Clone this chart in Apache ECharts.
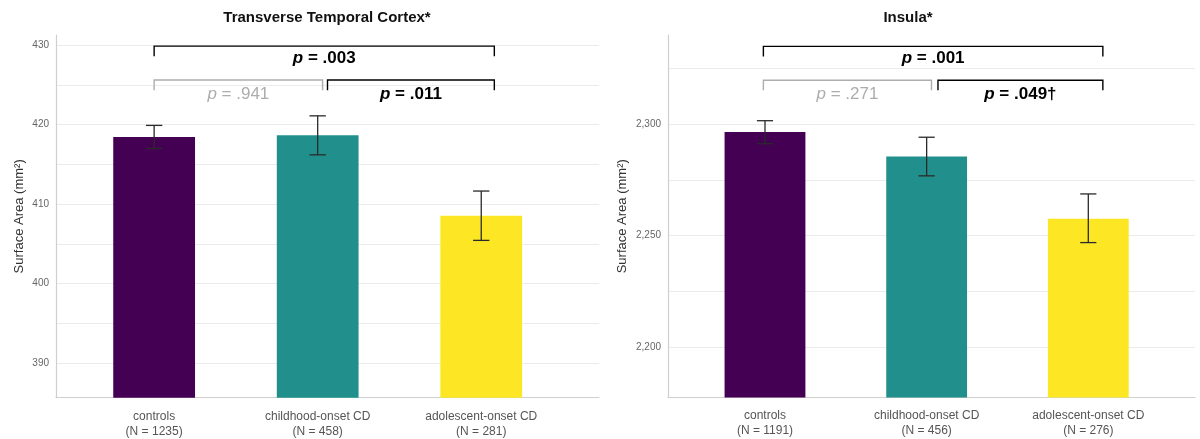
<!DOCTYPE html>
<html><head><meta charset="utf-8">
<script src="https://cdn.jsdelivr.net/npm/echarts@6/dist/echarts.min.js"></script>
<style>html,body{margin:0;padding:0;background:#fff}#c{width:1200px;height:439px}</style>
</head><body><div id="c"></div>
<script>
const groups = ['controls', 'childhood-onset CD', 'adolescent-onset CD'];
const nLeft = [1235, 458, 281];
const nRight = [1191, 456, 276];
const xPos = [1, 2, 3];
const meansL = [418.45, 418.65, 408.55];
const lowL = [417.0, 416.2, 405.45];
const highL = [419.9, 421.1, 411.65];
const meansR = [2296.4, 2285.5, 2257.6];
const lowR = [2291.2, 2276.8, 2246.9];
const highR = [2301.5, 2294.1, 2268.7];
const yTicksL = [390, 400, 410, 420, 430];
const yGridL = [390, 395, 400, 405, 410, 415, 420, 425, 430];
const yTicksR = [2200, 2250, 2300];
const yGridR = [2200, 2225, 2250, 2275, 2300, 2325];
const colors = ['#440154', '#21908C', '#FDE725'];
// brackets: [xStart, xEnd, yLine, yTickEnd, yLabel]
const bracketsL = [[1.0, 3.08, 429.86, 428.6, 428.35], [1.0, 2.03, 425.6, 424.33, 423.8], [2.06, 3.08, 425.6, 424.33, 423.8]];
const bracketLabelsL = ['.003', '.941', '.011'];
const bracketSigL = [true, false, true];
const bracketsR = [[0.99, 3.09, 2334.8, 2330.3, 2329.4], [0.99, 2.03, 2319.6, 2315.1, 2313.3], [2.07, 3.09, 2319.6, 2315.1, 2313.3]];
const bracketLabelsR = ['.001', '.271', '.049†'];
const bracketSigR = [true, false, true];

const FONT = 'Liberation Sans, Arial, Helvetica, sans-serif';

function barData(means) {
  return means.map((v, i) => ({ value: [xPos[i], v], itemStyle: { color: colors[i] } }));
}
function errData(lo, hi) { return lo.map((l, i) => [xPos[i], l, hi[i]]); }

function errSeries(idx, lo, hi) {
  return {
    type: 'custom', xAxisIndex: idx, yAxisIndex: idx, z: 5,
    data: errData(lo, hi), encode: { x: 0, y: [1, 2] },
    renderItem(params, api) {
      const x = api.value(0);
      const p1 = api.coord([x, api.value(1)]);
      const p2 = api.coord([x, api.value(2)]);
      const hw = api.size([0.1, 0])[0] / 2;
      const st = { stroke: '#2a2a2a', lineWidth: 1.3 };
      return { type: 'group', children: [
        { type: 'line', shape: { x1: p1[0], y1: p1[1], x2: p2[0], y2: p2[1] }, style: st },
        { type: 'line', shape: { x1: p1[0] - hw, y1: p1[1], x2: p1[0] + hw, y2: p1[1] }, style: st },
        { type: 'line', shape: { x1: p2[0] - hw, y1: p2[1], x2: p2[0] + hw, y2: p2[1] }, style: st }
      ]};
    }
  };
}

function bracketSeries(idx, brackets, labels, sig) {
  return {
    type: 'custom', xAxisIndex: idx, yAxisIndex: idx, z: 6,
    data: brackets, encode: { x: [0, 1], y: [2, 3, 4] },
    renderItem(params, api) {
      const i = params.dataIndex;
      const x1 = api.value(0), x2 = api.value(1), y = api.value(2), yt = api.value(3), yl = api.value(4);
      const a = api.coord([x1, yt]), b = api.coord([x1, y]), c = api.coord([x2, y]), d = api.coord([x2, yt]);
      const lab = api.coord([(x1 + x2) / 2, yl]);
      const s = sig[i];
      const col = s ? '#000' : '#adadad';
      const fw = s ? 'bold' : 'normal';
      return { type: 'group', children: [
        { type: 'polyline', shape: { points: [a, b, c, d] }, style: { stroke: col, lineWidth: 1.4, fill: null } },
        { type: 'text', x: lab[0], y: lab[1], style: {
          text: '{i|p}{n| = ' + labels[i] + '}',
          align: 'center', verticalAlign: 'middle',
          rich: {
            i: { fontStyle: 'italic', fontWeight: fw, fontSize: 17, fontFamily: FONT, fill: col },
            n: { fontWeight: fw, fontSize: 17, fontFamily: FONT, fill: col }
          }
        }}
      ]};
    }
  };
}

function xAxisCfg(idx, ns, max) {
  return {
    type: 'value', gridIndex: idx, min: 0.4, max: max,
    axisLine: { show: true, lineStyle: { color: '#cfcfcf', width: 1.2 } },
    axisTick: { show: false },
    splitLine: { show: false },
    axisLabel: {
      customValues: xPos, color: '#555', fontSize: 12, lineHeight: 15, margin: 11, fontFamily: FONT,
      formatter: v => groups[Math.round(v) - 1] + '\n(N = ' + ns[Math.round(v) - 1] + ')'
    }
  };
}
function yAxisCfg(idx, min, max, ticks, grid, gap, fmt) {
  return {
    type: 'value', gridIndex: idx, min: min, max: max,
    name: 'Surface Area (mm²)', nameLocation: 'middle', nameGap: gap,
    nameTextStyle: { color: '#333', fontSize: 13, fontFamily: FONT },
    axisLine: { show: true, lineStyle: { color: '#cfcfcf', width: 1.2 } },
    axisTick: { show: false, customValues: grid },
    splitLine: { show: true, lineStyle: { color: '#ebebeb', width: 1 } },
    axisLabel: { customValues: ticks, color: '#666', fontSize: 10, margin: 7, fontFamily: FONT, formatter: fmt }
  };
}

const chart = echarts.init(document.getElementById('c'), null, { renderer: 'canvas' });
chart.setOption({
  animation: false,
  textStyle: { fontFamily: FONT },
  graphic: [
    { type: 'text', x: 327, y: 18, style: { text: 'Transverse Temporal Cortex*', font: 'bold 15px ' + FONT, fill: '#111', align: 'center', verticalAlign: 'middle' } },
    { type: 'text', x: 908, y: 18, style: { text: 'Insula*', font: 'bold 15px ' + FONT, fill: '#111', align: 'center', verticalAlign: 'middle' } }
  ],
  grid: [
    { left: 56, top: 35, width: 543, height: 362.7 },
    { left: 668, top: 35, width: 527, height: 362.5 }
  ],
  xAxis: [xAxisCfg(0, nLeft, 3.72), xAxisCfg(1, nRight, 3.66)],
  yAxis: [
    yAxisCfg(0, 385.68, 431.26, yTicksL, yGridL, 30, v => String(v)),
    yAxisCfg(1, 2177.5, 2339.9, yTicksR, yGridR, 39, v => v.toLocaleString('en-US'))
  ],
  series: [
    { type: 'bar', xAxisIndex: 0, yAxisIndex: 0, barWidth: '50%', data: barData(meansL), z: 2 },
    { type: 'bar', xAxisIndex: 1, yAxisIndex: 1, barWidth: '50%', data: barData(meansR), z: 2 },
    errSeries(0, lowL, highL),
    errSeries(1, lowR, highR),
    bracketSeries(0, bracketsL, bracketLabelsL, bracketSigL),
    bracketSeries(1, bracketsR, bracketLabelsR, bracketSigR)
  ]
});
</script>
</body></html>
